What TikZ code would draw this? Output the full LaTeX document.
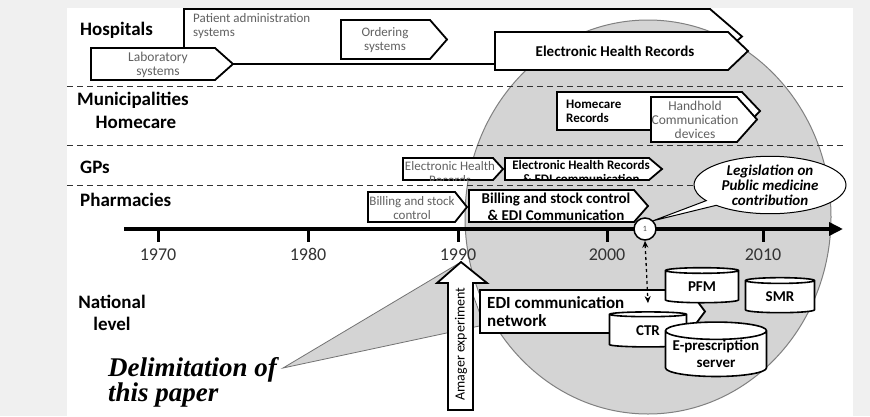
\documentclass[tikz,border=0pt]{standalone}
\usepackage{fontspec}
\setmainfont{Carlito}
\newfontfamily\delimfont{Liberation Serif}
\usetikzlibrary{shapes.geometric,shapes.callouts,arrows.meta}
\newcommand\arrbox[6][]{%
  \draw[abox,#1] (#2,#3) -- ({#4-#6},#3) -- (#4,{(#3+#5)/2}) -- ({#4-#6},#5) -- (#2,#5) -- cycle;}
\begin{document}
\begin{tikzpicture}[x=1pt,y=-1pt,
  abox/.style={draw=black,line width=1.8pt,fill=white,line join=miter},
  lbl/.style={font=\fontsize{19}{22}\selectfont\bfseries,anchor=west,inner sep=0},
  gtxt/.style={text=black!62,align=center,inner sep=0},
  btxt/.style={text=black,align=center,inner sep=0},
  dline/.style={dash pattern=on 6pt off 4pt,line width=1pt,black!80},
  cyl/.style={cylinder,shape border rotate=90,draw,line width=1.6pt,fill=white,aspect=0.2,inner sep=0,font=\fontsize{15}{17}\selectfont\bfseries,align=center},
  year/.style={font=\fontsize{18}{20}\selectfont,text=black!80,inner sep=0,anchor=base}]
\fill[black!6] (0,0) rectangle (870,416);
\fill[white] (67,8) rectangle (853,416);
\useasboundingbox (0,0) rectangle (870,416);

% hospitals row (back)
\arrbox{184}{9}{742}{64}{32}
\node[gtxt,anchor=north west,align=left,font=\fontsize{13}{14}\selectfont] (pa) at (193,13) {Patient administration\\systems};
\arrbox{341}{20}{447}{59}{17}
\node[gtxt,font=\fontsize{13}{14}\selectfont] (ord) at (385,40) {Ordering\\systems};
\arrbox{91}{48}{233}{80}{18}
\node[gtxt,font=\fontsize{13.5}{14}\selectfont] (lab) at (158,65) {Laboratory\\systems};

% delimitation wedge and big ellipse
\fill[black!17,draw=black!55,line width=0.8pt] (283,368) -- (461,262) -- (484,325) -- cycle;
\fill[black!17,draw=black!50,line width=1pt] (648,217) ellipse [x radius=183,y radius=197];

% dashed separators
\draw[dline] (67,86) -- (846,86);
\draw[dline] (67,145) -- (846,145);
\draw[dline] (67,185) -- (846,185);

% row labels
\node[lbl] (hosp) at (80,30) {Hospitals};
\node[lbl] (mun) at (77,100) {Municipalities};
\node[lbl,anchor=center] (home) at (136,122) {Homecare};
\node[lbl] (gps) at (80,167) {GPs};
\node[lbl] (pharm) at (80,200) {Pharmacies};
\node[lbl,anchor=center,align=center,font=\fontsize{19}{22}\selectfont\bfseries] (nat) at (112,313) {National\\level};

% hospital EHR
\arrbox{495}{32}{748}{70}{20}
\node[btxt,font=\fontsize{15}{17}\selectfont\bfseries] (ehrh) at (615,51) {Electronic Health Records};

% municipalities
\arrbox{557}{92}{760}{130}{18}
\node[btxt,anchor=west,align=left,font=\fontsize{13}{14}\selectfont\bfseries] (hcr) at (566,111) {Homecare\\Records};
\arrbox{651}{97}{757}{142}{20}
\node[gtxt,font=\fontsize{13.5}{14}\selectfont] (hh) at (695,120) {Handhold\\Communication\\devices};

% GPs
\arrbox{403}{158}{503}{180}{10}
\begin{scope}
\clip (403,158) rectangle (503,180);
\node[gtxt,font=\fontsize{13}{14}\selectfont] (gpehr) at (450,173) {Electronic Health\\Records};
\end{scope}
\arrbox{505}{158}{662}{180}{13}
\begin{scope}
\clip (505,158) rectangle (662,180);
\node[btxt,font=\fontsize{13}{13.5}\selectfont\bfseries] (gpedi) at (581,172) {Electronic Health Records\\\& EDI communication};
\end{scope}

% pharmacies
\arrbox{368}{192}{467}{222}{12}
\node[gtxt,font=\fontsize{13}{13.5}\selectfont] (bill) at (412,208) {Billing and stock\\control};
\arrbox{469}{190}{648}{222}{14}
\node[btxt,font=\fontsize{15}{17}\selectfont\bfseries] (billedi) at (556,207) {Billing and stock control\\\& EDI Communication};

% timeline
\coordinate (t0) at (124,229);
\coordinate (t1) at (843,229);
\draw[line width=3.5pt,-{Triangle[length=14pt,width=13pt]}] (t0) -- (t1);
\foreach \xx/\yr in {158/1970,308/1980,458/1990,607/2000,763/2010}{
  \draw[line width=3pt] (\xx,229) -- (\xx,242);
  \node[year] (y\yr) at (\xx,260) {\yr};
}

% legislation callout
\node[circle,draw,line width=1.5pt,fill=white,minimum size=22pt,inner sep=0,font=\fontsize{8}{8}\selectfont,text=black!70] (c1) at (645,229) {1};
\node[ellipse callout,draw,line width=1pt,fill=white,minimum width=152pt,minimum height=52pt,inner sep=0,align=center,
  callout absolute pointer={(c1.north east)},callout pointer arc=12,
  font=\fontsize{15}{15}\selectfont\bfseries\itshape] (leg) at (770,185) {Legislation on\\Public medicine\\contribution};

% Amager experiment arrow
\draw[abox] (448,410) -- (448,283) -- (437,283) -- (461,262) -- (487,283) -- (473,283) -- (473,410) -- cycle;
\node[rotate=90,inner sep=0,font=\fontsize{14}{14}\selectfont] (amager) at (461,344) {Amager experiment};

% national level
\arrbox{480}{290}{705}{333}{16}
\node[btxt,anchor=west,align=left,font=\fontsize{17}{18}\selectfont\bfseries] (edi) at (487,312) {EDI communication\\network};
\node[cyl,minimum width=73pt,minimum height=35pt] (pfm) at (702,287) {PFM};
\node[cyl,minimum width=69pt,minimum height=35pt] (smr) at (780,297) {SMR};
\node[cyl,minimum width=77pt,minimum height=35pt] (ctr) at (648,331) {\raisebox{-4pt}{CTR}};
\node[cyl,minimum width=101pt,minimum height=52pt] (epr) at (716,354) {E-prescription\\server};

\draw[dashed,line width=1.3pt,{Stealth[length=7pt,width=6pt]}-{Stealth[length=7pt,width=6pt]}] (c1.south) -- ([yshift=8pt]ctr.north);

% delimitation
\node[anchor=base west,inner sep=0,font=\delimfont\fontsize{27}{28}\selectfont\bfseries\itshape] (del1) at (108,376) {Delimitation of};
\node[anchor=base west,inner sep=0,font=\delimfont\fontsize{27}{28}\selectfont\bfseries\itshape] (del2) at (108,401) {this paper};
\end{tikzpicture}
\end{document}
